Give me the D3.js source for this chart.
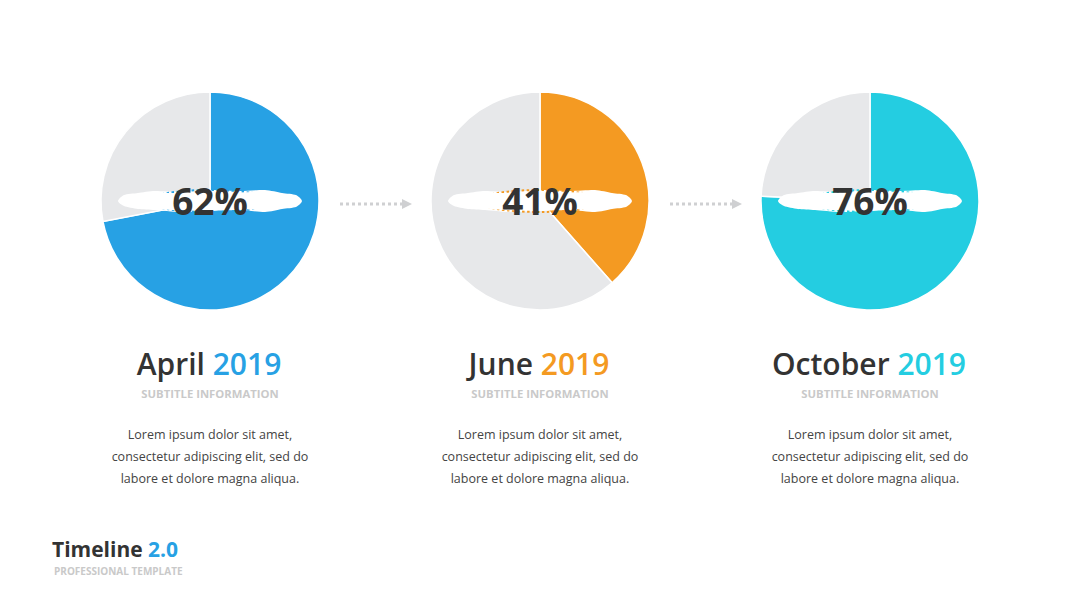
<!DOCTYPE html>
<html>
<head>
<meta charset="utf-8">
<script src="https://cdn.jsdelivr.net/npm/d3@7"></script>
<style>
  body { margin: 0; background: #fff; }
  text { font-family: "Open Sans", "Noto Sans", sans-serif; }
</style>
</head>
<body>
<script>
// chart values
var months = ["April", "June", "October"];
var years = ["2019", "2019", "2019"];
var labels = ["62%", "41%", "76%"];
var shares = [72, 38.5, 75.7];   // wedge share as drawn in the picture
var colors = ["#27a1e4", "#f49a22", "#24cde1"];
var bodyLines = ["Lorem ipsum dolor sit amet,", "consectetur adipiscing elit, sed do", "labore et dolore magna aliqua."];

var W = 1080, H = 608;
var svg = d3.select("body").append("svg").attr("width", W).attr("height", H);

var x = d3.scalePoint().domain(months).range([210, 870]);
var cy = 201, R = 109;

var pie = d3.pie().sort(null).value(function(d){ return d; });
var arc = d3.arc().innerRadius(0).outerRadius(R);

// rough brush shape behind the percentage
var brushPts = [[-92,0],[-86,-6],[-72,-8],[-55,-10],[-30,-9],[0,-11],[30,-10],[55,-11],[72,-8],[86,-6],[92,0],
                [86,6],[72,8],[55,11],[30,9],[0,10],[-30,11],[-55,9],[-72,8],[-86,5]];
var brushLine = d3.line().curve(d3.curveCardinalClosed.tension(0.3));

months.forEach(function(m, i){
  var g = svg.append("g").attr("transform", "translate(" + x(m) + "," + cy + ")");
  g.selectAll("path.slice").data(pie([shares[i], 100 - shares[i]])).enter()
    .append("path").attr("class","slice")
    .attr("d", arc)
    .attr("fill", function(d, j){ return j == 0 ? colors[i] : "#e7e8ea"; })
    .attr("stroke", "#fff").attr("stroke-width", 1.5);

  g.append("path").attr("d", brushLine(brushPts)).attr("fill", "#fff");
  g.append("ellipse").attr("rx", 62).attr("ry", 11)
    .attr("fill", "none").attr("stroke", colors[i]).attr("stroke-width", 2)
    .attr("stroke-dasharray", "2.5,2.5");
  g.append("path").attr("d", brushLine(brushPts.map(function(p){ return [p[0]*0.97, p[1]*0.85]; })))
    .attr("fill", "#fff");

  g.append("text").attr("y", 14).attr("text-anchor", "middle")
    .attr("font-size", 37).attr("font-weight", 700).attr("fill", "#333")
    .text(labels[i]);

  var t = svg.append("text").attr("x", x(m) - 1).attr("y", 375).attr("text-anchor", "middle")
    .attr("font-size", 30).attr("font-weight", 600).attr("fill", "#333");
  t.append("tspan").text(m + " ");
  t.append("tspan").attr("fill", colors[i]).text(years[i]);

  svg.append("text").attr("x", x(m)).attr("y", 398).attr("text-anchor", "middle")
    .attr("font-size", 11.3).attr("font-weight", 700).attr("fill", "#c9c9c9")
    .text("SUBTITLE INFORMATION");

  svg.selectAll(null).data(bodyLines).enter().append("text")
    .attr("x", x(m)).attr("y", function(d, k){ return 439 + k * 22; })
    .attr("text-anchor", "middle").attr("font-size", 12.5).attr("fill", "#444")
    .text(function(d){ return d; });
});

// dotted arrows between pies
for (var i = 0; i < months.length - 1; i++) {
  var a = x(months[i]) + 130, b = x(months[i+1]) - 130;
  svg.append("line").attr("x1", a).attr("x2", b - 8).attr("y1", 204).attr("y2", 204)
    .attr("stroke", "#cfd0d2").attr("stroke-width", 3).attr("stroke-dasharray", "3,3");
  svg.append("path").attr("d", "M" + (b - 8) + ",199 L" + (b + 2) + ",204 L" + (b - 8) + ",209 Z")
    .attr("fill", "#cfd0d2");
}

// footer
var f = svg.append("text").attr("x", 52).attr("y", 557).attr("font-size", 21).attr("font-weight", 700).attr("fill", "#333");
f.append("tspan").text("Timeline ");
f.append("tspan").attr("fill", colors[0]).text("2.0");
svg.append("text").attr("x", 54).attr("y", 575).attr("font-size", 10).attr("font-weight", 700)
  .attr("fill", "#c9c9c9").text("PROFESSIONAL TEMPLATE");
</script>
</body>
</html>
